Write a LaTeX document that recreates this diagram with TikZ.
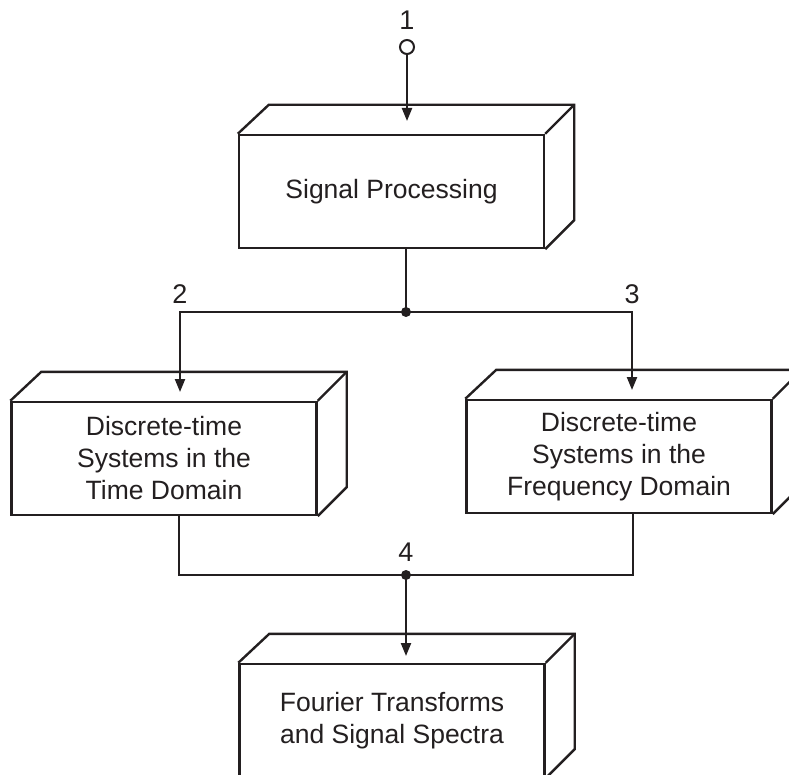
\documentclass[tikz,border=0pt]{standalone}
\usepackage{fontspec}
\setmainfont{Liberation Sans}
\usetikzlibrary{arrows.meta,calc}
\definecolor{ink}{HTML}{231F20}
\tikzset{
  cube/.style={draw=ink, line width=2.4pt, minimum width=305pt, minimum height=113pt,
    align=center, font=\fontsize{26.5}{32}\selectfont, text=ink, inner sep=0pt},
  link/.style={draw=ink, line width=2.2pt},
  arr/.style={link, -{Triangle[length=13pt,width=10pt]}},
  dot/.style={circle, fill=ink, inner sep=0pt, minimum size=10pt},
  ring/.style={circle, draw=ink, line width=2pt, fill=white, inner sep=0pt, minimum size=14pt},
  lab/.style={font=\fontsize{27}{30}\selectfont, text=ink, inner sep=0pt},
}
\newcommand\cubedepth[1]{%
  \draw[draw=ink, line width=2.4pt, line join=miter] (#1.north west) -- ++(31,-29) -- ($(#1.north east)+(29,-29)$)
    -- ($(#1.south east)+(29,-29)$) -- (#1.south east);
  \draw[draw=ink, line width=2.4pt] (#1.north east) -- ++(29,-29);
}
\begin{document}
\begin{tikzpicture}[x=1pt,y=-1pt]
  \clip (0,0) rectangle (789,775);
  \fill[white] (0,0) rectangle (789,775);

  % boxes
  \node[cube] (sp) at (391.5,191.5) {Signal Processing};
  \cubedepth{sp}
  \node[cube] (td) at (164,458.5) {Discrete-time\\Systems in the\\Time Domain};
  \cubedepth{td}
  \node[cube] (fd) at (619,456.5) {Discrete-time\\Systems in the\\Frequency Domain};
  \cubedepth{fd}
  \node[cube] (ft) at (392,720.5) {Fourier Transforms\\and Signal Spectra};
  \cubedepth{ft}

  % input
  \node[lab] (l1) at (407,20) {1};
  \node[ring] (c1) at (407,47) {};
  \coordinate (t1) at (407,121);
  \draw[arr] (c1) -- (t1);

  % split
  \node[dot] (j1) at (406,312) {};
  \coordinate (a2) at (180,312);
  \coordinate (a3) at (632,312);
  \coordinate (t2) at (180,392);
  \coordinate (t3) at (632,390);
  \draw[link] (j1 |- sp.south) -- (j1.center);
  \draw[arr] (j1.center) -- (a2) -- (t2);
  \draw[arr] (j1.center) -- (a3) -- (t3);
  \node[lab] (l2) at (180,294) {2};
  \node[lab] (l3) at (632,294) {3};

  % merge
  \node[dot] (j4) at (406,575) {};
  \coordinate (b2) at (179,575);
  \coordinate (b3) at (633,575);
  \draw[link] (b2 |- td.south) -- (b2) -- (b3) -- (b3 |- fd.south);
  \node[lab] (l4) at (406,552) {4};
  \coordinate (t4) at (406,656);
  \draw[arr] (j4.center) -- (t4);
\end{tikzpicture}
\end{document}
